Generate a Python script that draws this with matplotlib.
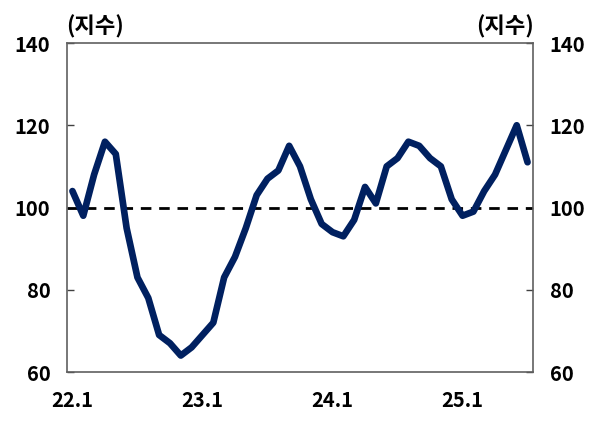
import matplotlib
matplotlib.use('Agg')
import matplotlib.pyplot as plt
import numpy as np

plt.rcParams['font.family'] = ['Noto Sans CJK KR', 'DejaVu Sans']
plt.rcParams['font.weight'] = 'bold'

# monthly index, 22.1 .. 25.7
values = [104, 98, 108, 116, 113, 95, 83, 78, 69, 67, 64, 66,
          69, 72, 83, 88, 95, 103, 107, 109, 115, 110, 102, 96,
          94, 93, 97, 105, 101, 110, 112, 116, 115, 112, 110, 102,
          98, 99, 104, 108, 114, 120, 111]
tick_labels = ['22.1', '23.1', '24.1', '25.1']
tick_months = [0, 12, 24, 36]
y_ticks = [60, 80, 100, 120, 140]
unit_label = '(지수)'

fig = plt.figure(figsize=(6, 4.25), dpi=100)
ax = fig.add_axes([0.1117, 0.1247, 0.7766, 0.7741])

x = np.arange(len(values))
ax.plot(x, values, color='#002060', lw=4.8, solid_joinstyle='round',
        solid_capstyle='round', zorder=3)
ax.axhline(100, color='black', lw=2.0, ls=(0, (3.8, 2.8)), zorder=2)

ax.set_xlim(-0.5, len(values) - 0.5)
ax.set_ylim(60, 140)
ax.set_xticks(tick_months)
ax.set_xticklabels(tick_labels)
ax.set_yticks(y_ticks)
ax.tick_params(axis='x', length=0, pad=13, labelsize=14.5)
ax.tick_params(axis='y', direction='in', length=5, width=1, pad=12,
               labelsize=14.5, left=True, right=True, labelleft=True,
               labelright=True, color='#404040')

for s in ax.spines.values():
    s.set_color('#606060')
    s.set_linewidth(1.2)

fig.text(0.111, 0.938, unit_label, fontsize=16, fontweight='bold',
         ha='left', va='center')
fig.text(0.889, 0.938, unit_label, fontsize=16, fontweight='bold',
         ha='right', va='center')

fig.savefig('out.png', dpi=100)
